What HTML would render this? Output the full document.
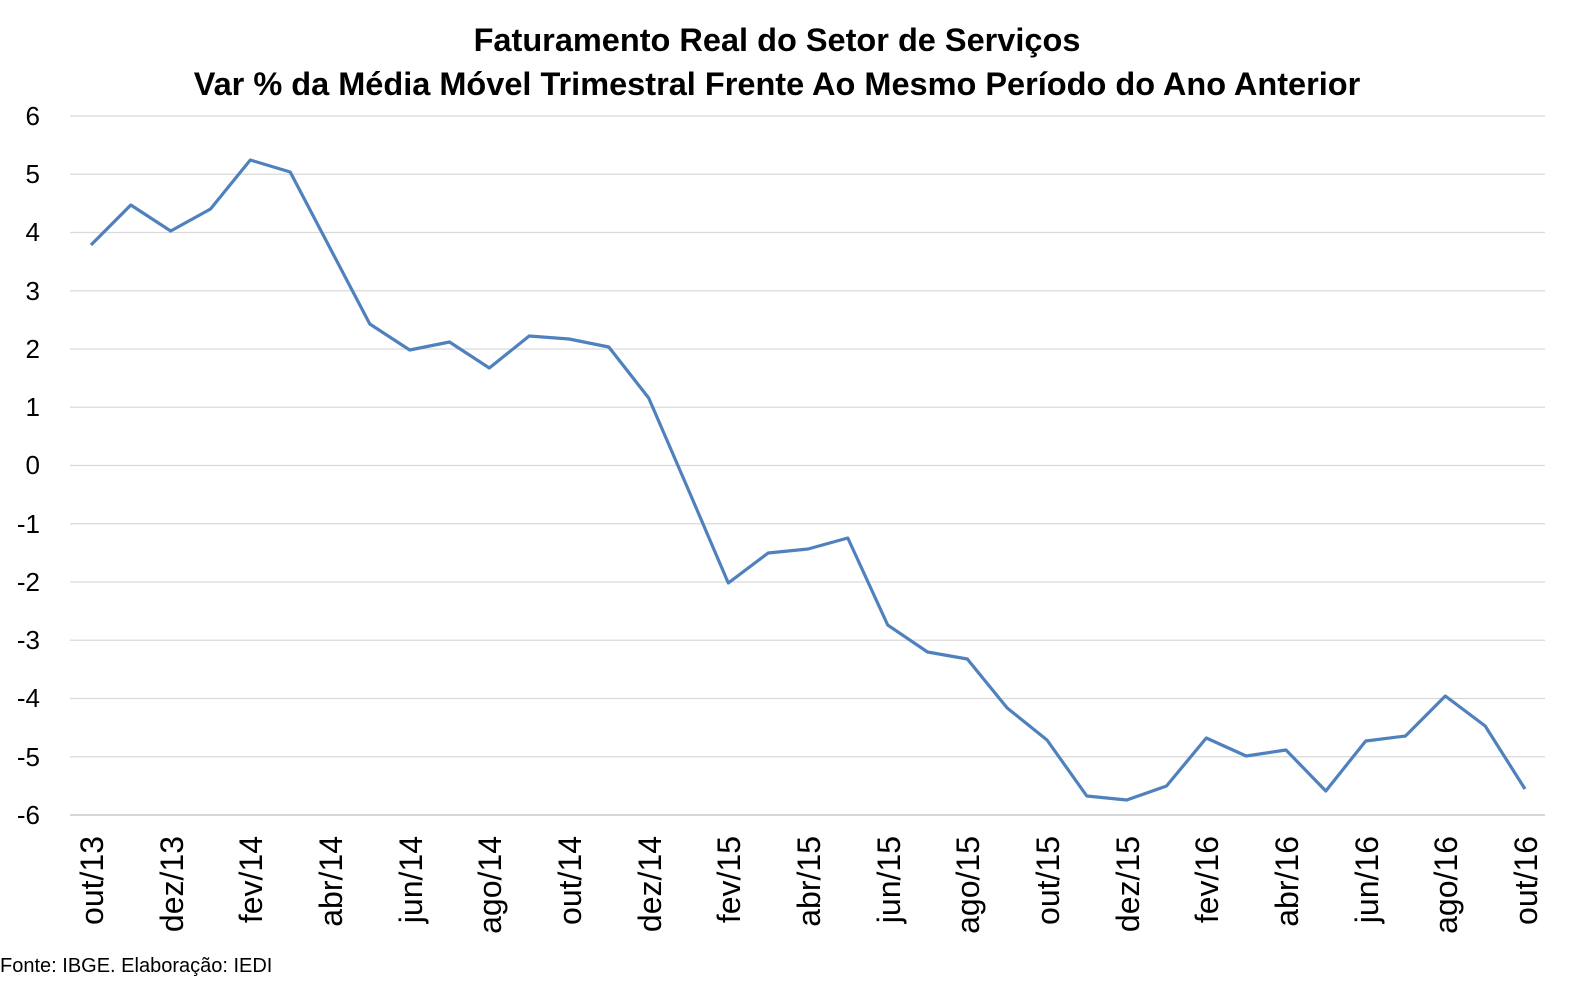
<!DOCTYPE html>
<html><head><meta charset="utf-8"><style>
html,body{margin:0;padding:0;background:#fff;}
svg{display:block;font-family:"Liberation Sans",sans-serif;}
</style></head><body>
<svg width="1583" height="988" viewBox="0 0 1583 988" xmlns="http://www.w3.org/2000/svg">
<rect width="1583" height="988" fill="#fff"/>
<text x="777" y="51" text-anchor="middle" font-size="32.5" font-weight="bold" fill="#000">Faturamento Real do Setor de Serviços</text>
<text x="777" y="95" text-anchor="middle" font-size="32.5" font-weight="bold" fill="#000">Var % da Média Móvel Trimestral Frente Ao Mesmo Período do Ano Anterior</text>
<g stroke="#d9d9d9" stroke-width="1.2">
<line x1="70" x2="1545" y1="116" y2="116"/><line x1="70" x2="1545" y1="174.25" y2="174.25"/><line x1="70" x2="1545" y1="232.5" y2="232.5"/><line x1="70" x2="1545" y1="290.75" y2="290.75"/><line x1="70" x2="1545" y1="349" y2="349"/><line x1="70" x2="1545" y1="407.25" y2="407.25"/><line x1="70" x2="1545" y1="465.5" y2="465.5"/><line x1="70" x2="1545" y1="523.75" y2="523.75"/><line x1="70" x2="1545" y1="582" y2="582"/><line x1="70" x2="1545" y1="640.25" y2="640.25"/><line x1="70" x2="1545" y1="698.5" y2="698.5"/><line x1="70" x2="1545" y1="756.75" y2="756.75"/>
</g>
<line x1="70" x2="1545" y1="815" y2="815" stroke="#bfbfbf" stroke-width="1.2"/>
<g font-size="26" fill="#000" text-anchor="end">
<text x="40" y="125">6</text><text x="40" y="183">5</text><text x="40" y="241">4</text><text x="40" y="300">3</text><text x="40" y="358">2</text><text x="40" y="416">1</text><text x="40" y="474">0</text><text x="40" y="533">-1</text><text x="40" y="591">-2</text><text x="40" y="649">-3</text><text x="40" y="707">-4</text><text x="40" y="766">-5</text><text x="40" y="824">-6</text>
</g>
<polyline fill="none" stroke="#4f81bd" stroke-width="3.2" stroke-linejoin="round" points="91,245 130.8,205 170.7,231 210.5,209 250.3,160 290.2,172 330,248 369.8,324 409.7,350 449.5,342 489.3,368 529.2,336 569,339 608.8,347 648.7,398 688.5,490 728.3,583 768.2,553 808,549 847.8,538 887.7,625 927.5,652 967.3,659 1007.2,708 1047,740 1086.8,796 1126.7,800 1166.5,786 1206.3,738 1246.2,756 1286,750 1325.8,791 1365.7,741 1405.5,736 1445.3,696 1485.2,726 1525,789"/>
<g font-size="32" fill="#000" text-anchor="end">
<text transform="translate(103,836) rotate(-90)">out/13</text>
<text transform="translate(183,836) rotate(-90)">dez/13</text>
<text transform="translate(262,836) rotate(-90)">fev/14</text>
<text transform="translate(342,836) rotate(-90)">abr/14</text>
<text transform="translate(422,836) rotate(-90)">jun/14</text>
<text transform="translate(501,836) rotate(-90)">ago/14</text>
<text transform="translate(581,836) rotate(-90)">out/14</text>
<text transform="translate(661,836) rotate(-90)">dez/14</text>
<text transform="translate(740,836) rotate(-90)">fev/15</text>
<text transform="translate(820,836) rotate(-90)">abr/15</text>
<text transform="translate(900,836) rotate(-90)">jun/15</text>
<text transform="translate(979,836) rotate(-90)">ago/15</text>
<text transform="translate(1059,836) rotate(-90)">out/15</text>
<text transform="translate(1139,836) rotate(-90)">dez/15</text>
<text transform="translate(1218,836) rotate(-90)">fev/16</text>
<text transform="translate(1298,836) rotate(-90)">abr/16</text>
<text transform="translate(1378,836) rotate(-90)">jun/16</text>
<text transform="translate(1457,836) rotate(-90)">ago/16</text>
<text transform="translate(1537,836) rotate(-90)">out/16</text>
</g>
<text x="0" y="972" font-size="20" fill="#000">Fonte: IBGE. Elaboração: IEDI</text>
</svg>
</body></html>
